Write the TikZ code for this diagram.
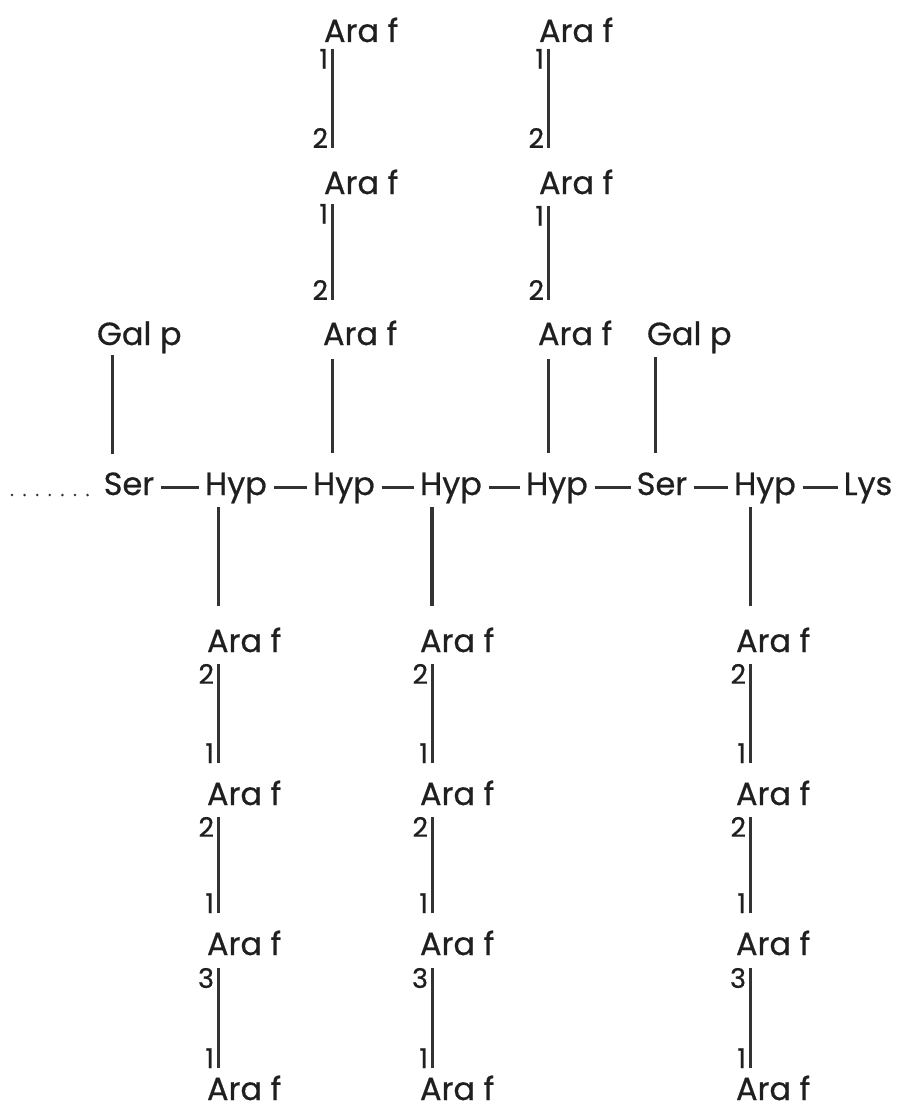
\documentclass[tikz,border=0pt]{standalone}
\usepackage{fontspec}
\setmainfont{Poppins}[FakeBold=0.6]
\usetikzlibrary{calc}
\begin{document}
\begin{tikzpicture}[x=1pt,y=-1pt,
  res/.style={inner sep=0pt, outer sep=0pt, text=black!88, font=\fontsize{32}{32}\selectfont, text height=23pt, text depth=8pt},
  num/.style={inner sep=0pt, outer sep=0pt, text=black!88, font=\fontsize{27}{27}\selectfont, xshift=-4pt},
  bond/.style={line width=3pt, draw=black!80},
  pep/.style={line width=3pt, draw=black!80, shorten <=7pt, shorten >=6pt}]
\useasboundingbox (0,0) rectangle (902,1110);
% x positions of vertical bonds
\coordinate (xUL) at (332,0);
\coordinate (xUR) at (548,0);
\coordinate (xGa) at (112,0);
\coordinate (xGb) at (655,0);
\coordinate (xLa) at (218,0);
\coordinate (xLb) at (432,0);
\coordinate (xLc) at (750,0);
% main chain
\node[res,anchor=base] (ser1) at (129,495) {Ser};
\node[res,anchor=base] (hyp1) at (236,495) {Hyp};
\node[res,anchor=base] (hyp2) at (344,495) {Hyp};
\node[res,anchor=base] (hyp3) at (451,495) {Hyp};
\node[res,anchor=base] (hyp4) at (557,495) {Hyp};
\node[res,anchor=base] (ser2) at (662,495) {Ser};
\node[res,anchor=base] (hyp5) at (765,495) {Hyp};
\node[res,anchor=base] (lys) at (868,495) {Lys};
\draw[pep] (ser1) -- (hyp1);
\draw[pep] (hyp1) -- (hyp2);
\draw[pep] (hyp2) -- (hyp3);
\draw[pep] (hyp3) -- (hyp4);
\draw[pep] (hyp4) -- (ser2);
\draw[pep] (ser2) -- (hyp5);
\draw[pep] (hyp5) -- (lys);
\coordinate (dots) at (12,495);
\draw[line width=2.8pt, line cap=round, dash pattern=on 0pt off 12.6pt, shorten >=14.8pt, draw=black!80] (dots) -- (ser1.base west);
% Gal p branches
\node[res,anchor=base west] (gala) at (97,345) {Gal p};
\node[res,anchor=base west] (galb) at (647,345) {Gal p};
\draw[bond] ($(gala.base -| xGa)+(0,10)$) -- ($(ser1.base -| xGa)+(0,-41)$);
\draw[bond] ($(galb.base -| xGb)+(0,12)$) -- ($(ser2.base -| xGb)+(0,-42)$);
% upper left arabinose chain
\node[res,anchor=base west] (ula) at (324,42) {Ara f};
\node[res,anchor=base west] (ulb) at (324,194) {Ara f};
\node[res,anchor=base west] (ulc) at (323,345) {Ara f};
\draw[bond] ($(ula.base -| xUL)+(0,7)$) -- ($(ulb.base -| xUL)+(0,-46)$)
  node[num,pos=0,anchor=north east] (ula1) {1} node[num,pos=1,anchor=south east] (ula2) {2};
\draw[bond] ($(ulb.base -| xUL)+(0,10)$) -- ($(ulc.base -| xUL)+(0,-45)$)
  node[num,pos=0,anchor=north east] (ulb1) {1} node[num,pos=1,anchor=south east] (ulb2) {2};
\draw[bond] ($(ulc.base -| xUL)+(0,14)$) -- ($(hyp2.base -| xUL)+(0,-42)$);
% upper right arabinose chain
\node[res,anchor=base west] (ura) at (539,42) {Ara f};
\node[res,anchor=base west] (urb) at (539,194) {Ara f};
\node[res,anchor=base west] (urc) at (538,345) {Ara f};
\draw[bond] ($(ura.base -| xUR)+(0,7)$) -- ($(urb.base -| xUR)+(0,-46)$)
  node[num,pos=0,anchor=north east] (ura1) {1} node[num,pos=1,anchor=south east] (ura2) {2};
\draw[bond] ($(urb.base -| xUR)+(0,12)$) -- ($(urc.base -| xUR)+(0,-45)$)
  node[num,pos=0,anchor=north east] (urb1) {1} node[num,pos=1,anchor=south east] (urb2) {2};
\draw[bond] ($(urc.base -| xUR)+(0,14)$) -- ($(hyp4.base -| xUR)+(0,-42)$);
% lower chains
\foreach \c/\lx/\hx/\w in {a/207/hyp1/3pt, b/420/hyp3/4.2pt, c/736/hyp5/3pt}{
  \node[res,anchor=base west] (l\c1) at (\lx,652) {Ara f};
  \node[res,anchor=base west] (l\c2) at (\lx,805) {Ara f};
  \node[res,anchor=base west] (l\c3) at (\lx,955) {Ara f};
  \node[res,anchor=base west,text depth=0pt] (l\c4) at (\lx,1100) {Ara f};
  \draw[bond, line width=\w] ($(\hx.base -| xL\c)+(0,12)$) -- ($(l\c1.base -| xL\c)+(0,-46)$);
  \draw[bond] ($(l\c1.base -| xL\c)+(0,12)$) -- ($(l\c2.base -| xL\c)+(0,-42)$)
    node[num,pos=0,anchor=north east] (l\c1t) {2} node[num,pos=1,anchor=south east] (l\c1b) {1};
  \draw[bond] ($(l\c2.base -| xL\c)+(0,12)$) -- ($(l\c3.base -| xL\c)+(0,-42)$)
    node[num,pos=0,anchor=north east] (l\c2t) {2} node[num,pos=1,anchor=south east] (l\c2b) {1};
  \draw[bond] ($(l\c3.base -| xL\c)+(0,13)$) -- ($(l\c4.base -| xL\c)+(0,-32)$)
    node[num,pos=0,anchor=north east] (l\c3t) {3} node[num,pos=1,anchor=south east] (l\c3b) {1};
}
\end{tikzpicture}
\end{document}
